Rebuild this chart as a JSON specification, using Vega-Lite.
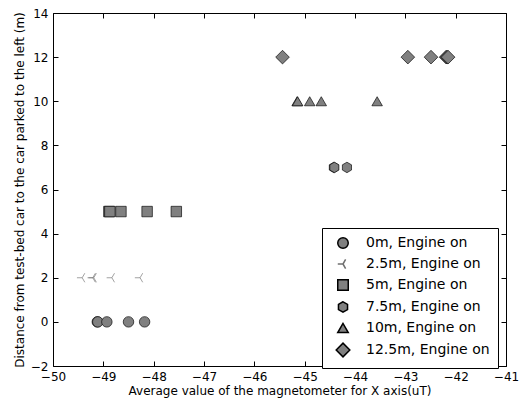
{
  "$schema": "https://vega.github.io/schema/vega-lite/v6.json",
  "width": 453,
  "height": 353,
  "autosize": "none",
  "padding": {"left": 53, "top": 13, "right": 15, "bottom": 34},
  "config": {
    "view": {"stroke": "black", "strokeWidth": 1},
    "font": "DejaVu Sans",
    "axis": {"grid": false, "labelFont": "DejaVu Sans", "titleFont": "DejaVu Sans", "labelColor": "black", "titleColor": "black", "labelFontSize": 12, "titleFontSize": 12, "titleFontWeight": "normal", "domain": false, "tickColor": "black", "labelOverlap": false}
  },
  "data": {
    "values": [
      {"x": -49.12, "y": 0, "series": "0m, Engine on"},
      {"x": -49.11, "y": 0, "series": "0m, Engine on"},
      {"x": -48.93, "y": 0, "series": "0m, Engine on"},
      {"x": -48.50, "y": 0, "series": "0m, Engine on"},
      {"x": -48.18, "y": 0, "series": "0m, Engine on"},
      {"x": -49.42, "y": 2, "series": "2.5m, Engine on"},
      {"x": -49.21, "y": 2, "series": "2.5m, Engine on"},
      {"x": -49.19, "y": 2, "series": "2.5m, Engine on"},
      {"x": -48.83, "y": 2, "series": "2.5m, Engine on"},
      {"x": -48.27, "y": 2, "series": "2.5m, Engine on"},
      {"x": -48.89, "y": 5, "series": "5m, Engine on"},
      {"x": -48.87, "y": 5, "series": "5m, Engine on"},
      {"x": -48.65, "y": 5, "series": "5m, Engine on"},
      {"x": -48.13, "y": 5, "series": "5m, Engine on"},
      {"x": -47.55, "y": 5, "series": "5m, Engine on"},
      {"x": -44.42, "y": 7, "series": "7.5m, Engine on"},
      {"x": -44.41, "y": 7, "series": "7.5m, Engine on"},
      {"x": -44.16, "y": 7, "series": "7.5m, Engine on"},
      {"x": -45.15, "y": 10, "series": "10m, Engine on"},
      {"x": -45.14, "y": 10, "series": "10m, Engine on"},
      {"x": -44.90, "y": 10, "series": "10m, Engine on"},
      {"x": -44.67, "y": 10, "series": "10m, Engine on"},
      {"x": -43.56, "y": 10, "series": "10m, Engine on"},
      {"x": -45.44, "y": 12, "series": "12.5m, Engine on"},
      {"x": -42.95, "y": 12, "series": "12.5m, Engine on"},
      {"x": -42.49, "y": 12, "series": "12.5m, Engine on"},
      {"x": -42.19, "y": 12, "series": "12.5m, Engine on"},
      {"x": -42.17, "y": 12, "series": "12.5m, Engine on"},
      {"x": -42.15, "y": 12, "series": "12.5m, Engine on"}
    ]
  },
  "layer": [
    {
      "mark": {"type": "point", "filled": true, "opacity": 1, "size": 110, "strokeWidth": 1, "strokeOpacity": 0.65},
      "encoding": {
        "x": {"field": "x", "type": "quantitative", "scale": {"domain": [-50, -41], "nice": false, "zero": false},
          "axis": {"orient": "bottom", "title": "Average value of the magnetometer for X axis(uT)", "values": [-50, -49, -48, -47, -46, -45, -44, -43, -42, -41], "ticks": false, "tickSize": 0, "labelPadding": 5, "titlePadding": 3, "labelFlush": false, "labelOverlap": false}},
        "y": {"field": "y", "type": "quantitative", "scale": {"domain": [-2, 14], "nice": false, "zero": false},
          "axis": {"orient": "left", "title": "Distance from test-bed car to the car parked to the left (m)", "values": [-2, 0, 2, 4, 6, 8, 10, 12, 14], "ticks": false, "tickSize": 0, "labelPadding": 5, "titlePadding": 4, "labelFlush": false, "labelOverlap": false}},
        "shape": {"field": "series", "type": "nominal",
          "scale": {"domain": ["0m, Engine on", "2.5m, Engine on", "5m, Engine on", "7.5m, Engine on", "10m, Engine on", "12.5m, Engine on"],
            "range": ["circle", "M0,0L-1,0M0,0L0.5,-0.866M0,0L0.5,0.866", "square", "M0,-1L-0.866,-0.5L-0.866,0.5L0,1L0.866,0.5L0.866,-0.5Z", "triangle-up", "M-1.3,0L0,-1.3L1.3,0L0,1.3Z"]},
          "legend": {"orient": "none", "legendX": 269, "legendY": 215, "title": null, "strokeColor": "black", "fillColor": "white", "padding": 8, "labelFontSize": 14, "labelFont": "DejaVu Sans", "labelColor": "black", "symbolSize": 110, "rowPadding": 4, "labelOffset": 16, "symbolOffset": 6, "cornerRadius": 0}},
        "fill": {"field": "series", "type": "nominal",
          "scale": {"domain": ["0m, Engine on", "2.5m, Engine on", "5m, Engine on", "7.5m, Engine on", "10m, Engine on", "12.5m, Engine on"],
            "range": ["#808080", "transparent", "#808080", "#808080", "#808080", "#808080"]}},
        "stroke": {"field": "series", "type": "nominal",
          "scale": {"domain": ["0m, Engine on", "2.5m, Engine on", "5m, Engine on", "7.5m, Engine on", "10m, Engine on", "12.5m, Engine on"],
            "range": ["#000000", "#707070", "#000000", "#000000", "#000000", "#000000"]}}
      }
    },
    {
      "mark": {"type": "point", "opacity": 0},
      "encoding": {
        "x": {"field": "x", "type": "quantitative",
          "axis": {"orient": "top", "offset": -353, "title": null, "labels": false, "ticks": true, "tickSize": 5, "values": [-50, -49, -48, -47, -46, -45, -44, -43, -42, -41]}},
        "y": {"field": "y", "type": "quantitative",
          "axis": {"orient": "right", "offset": -453, "title": null, "labels": false, "ticks": true, "tickSize": 5, "values": [-2, 0, 2, 4, 6, 8, 10, 12, 14]}}
      }
    },
    {
      "mark": {"type": "point", "opacity": 0},
      "encoding": {
        "x": {"field": "x", "type": "quantitative",
          "axis": {"orient": "bottom", "offset": -353, "title": null, "labels": false, "ticks": true, "tickSize": 5, "values": [-50, -49, -48, -47, -46, -45, -44, -43, -42, -41]}},
        "y": {"field": "y", "type": "quantitative",
          "axis": {"orient": "left", "offset": -453, "title": null, "labels": false, "ticks": true, "tickSize": 5, "values": [-2, 0, 2, 4, 6, 8, 10, 12, 14]}}
      }
    }
  ],
  "resolve": {"axis": {"x": "independent", "y": "independent"}}
}
